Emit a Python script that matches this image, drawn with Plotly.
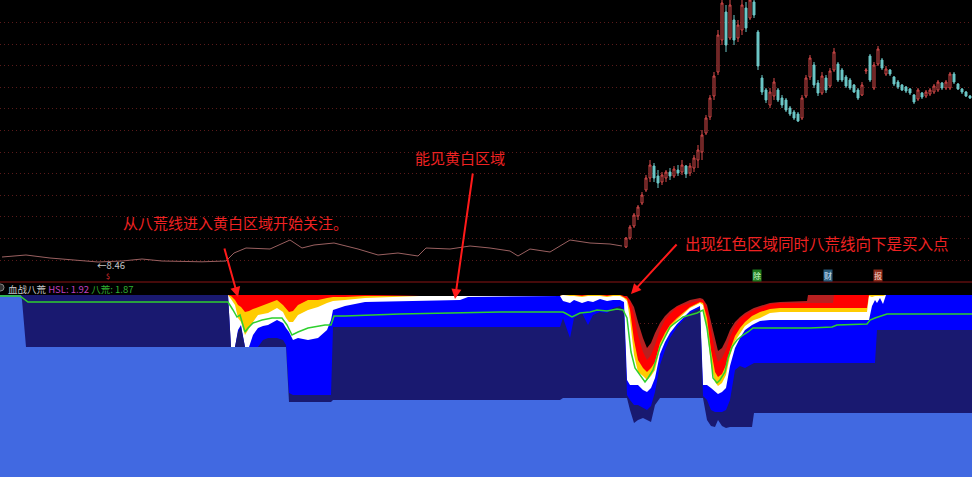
import plotly.graph_objects as go

# ---------------- price panel data ----------------
# flat (early) part of the price series, drawn as a thin line
flat_t = [2, 26, 50, 74, 98, 122, 142, 162, 182, 202, 226, 234, 246, 270, 290, 302, 314,
          334, 358, 378, 398, 418, 426, 450, 470, 490, 510, 518, 530, 550, 570, 590, 610, 622]
flat_p = [8.71, 8.81, 8.66, 8.56, 8.46, 8.51, 8.61, 8.51, 8.48, 8.47, 8.51, 8.91, 9.16, 9.11,
          9.56, 9.16, 9.31, 9.41, 9.11, 8.81, 8.91, 8.76, 9.16, 9.11, 9.26, 9.16, 9.01, 8.76,
          9.11, 8.96, 9.56, 9.41, 9.36, 9.26]

# candles of the rally part
candle_t = list(range(626, 971, 4))
c_open = [9.21, 9.66, 10.26, 10.76, 11.41, 12.06, 12.66, 13.26, 12.76, 12.46,
          12.66, 12.96, 12.76, 13.06, 12.96, 13.26, 12.91, 13.16, 13.56, 13.96,
          14.91, 15.71, 16.76, 17.96, 19.56, 20.96, 19.66, 20.56, 19.66, 20.06,
          21.16, 20.66, 21.46, 19.96, 17.66, 17.06, 16.31, 16.76, 17.06, 16.66,
          16.56, 16.16, 15.96, 15.86, 15.66, 16.76, 17.71, 18.31, 17.41, 16.91,
          17.66, 17.26, 18.06, 18.36, 18.06, 17.71, 17.56, 17.31, 17.06, 16.81,
          18.01, 18.76, 17.16, 18.36, 18.56, 17.86, 18.06, 17.71, 17.46, 17.31,
          17.21, 17.11, 16.81, 16.61, 16.91, 16.76, 16.86, 16.96, 17.06, 17.41,
          17.16, 17.16, 17.86, 17.36, 17.11, 16.96, 16.76]
c_high = [9.71, 10.31, 10.91, 11.31, 11.96, 12.81, 13.56, 13.41, 13.06, 12.96,
          13.06, 13.16, 13.26, 13.31, 13.56, 13.31, 13.41, 13.81, 14.31, 15.06,
          15.81, 16.81, 17.96, 20.06, 21.81, 21.31, 21.56, 20.81, 20.56, 21.71,
          21.46, 21.81, 21.66, 20.06, 17.81, 17.16, 17.16, 17.66, 17.16, 16.81,
          16.66, 16.26, 16.06, 15.96, 16.81, 17.81, 18.81, 18.46, 17.56, 17.96,
          17.81, 18.16, 19.16, 18.46, 18.16, 17.81, 17.66, 17.36, 17.16, 17.46,
          18.16, 18.86, 18.46, 19.26, 18.66, 18.26, 18.11, 17.76, 17.56, 17.36,
          17.26, 17.16, 16.86, 17.16, 16.96, 17.06, 17.16, 17.36, 17.56, 17.46,
          17.56, 17.96, 17.96, 17.41, 17.16, 17.01, 16.81]
c_low = [9.16, 9.56, 10.16, 10.56, 11.31, 11.96, 12.46, 12.46, 12.16, 12.31,
         12.46, 12.56, 12.66, 12.76, 12.81, 12.66, 12.76, 12.96, 13.16, 13.56,
         14.81, 15.56, 16.56, 17.81, 19.31, 18.96, 19.56, 19.31, 19.46, 19.81,
         19.96, 20.56, 20.66, 18.06, 16.81, 16.41, 16.16, 16.56, 16.46, 16.16,
         15.96, 15.76, 15.56, 15.46, 15.56, 16.66, 17.56, 17.16, 16.76, 16.81,
         16.91, 17.16, 17.96, 17.46, 17.46, 17.16, 17.06, 16.91, 16.56, 16.76,
         17.86, 17.46, 17.06, 18.26, 18.06, 17.76, 17.76, 17.26, 17.11, 17.01,
         16.91, 16.81, 16.36, 16.51, 16.61, 16.66, 16.76, 16.86, 16.96, 17.06,
         17.06, 17.06, 17.36, 17.06, 16.86, 16.71, 16.61]
c_close = [9.66, 10.21, 10.81, 11.21, 11.81, 12.66, 13.31, 12.66, 12.41, 12.81,
           12.96, 12.76, 13.11, 12.91, 13.31, 12.86, 13.26, 13.66, 14.06, 14.81,
           15.66, 16.66, 17.76, 19.81, 21.41, 19.31, 21.31, 19.56, 20.31, 21.31,
           20.16, 21.56, 20.81, 18.26, 16.96, 16.56, 16.96, 17.46, 16.56, 16.31,
           16.06, 15.86, 15.66, 15.51, 16.66, 17.66, 18.66, 17.31, 16.91, 17.76,
           17.06, 18.01, 18.96, 17.56, 17.56, 17.26, 17.16, 16.96, 16.66, 17.31,
           18.06, 17.56, 18.31, 19.11, 18.16, 18.11, 17.86, 17.36, 17.21, 17.06,
           17.01, 16.91, 16.46, 17.06, 16.71, 16.96, 17.06, 17.26, 17.46, 17.16,
           17.46, 17.86, 17.46, 17.11, 16.96, 16.76, 16.66]

# ---------------- indicator panel data (upper edge of each band) ----------------
ind_t = [0, 21, 22, 26, 228,
         231, 235, 238, 241, 245, 249, 253, 258, 263, 268,
         277, 283, 286, 289, 293, 298, 308, 318, 327, 331,
         333, 345, 365, 420, 460, 468, 560,
         563, 567, 570, 574, 582, 588, 593, 600, 607, 613,
         620, 624, 627,
         630, 634, 638, 643, 647, 651, 655, 660, 665, 670,
         677, 690, 700,
         703, 707, 711, 715, 718, 722, 726, 730, 735, 740,
         745, 752, 754, 760, 770, 780, 807, 808, 833, 834,
         867, 869, 872, 875, 877, 880, 883, 886, 972]
lvl_dark = [182, 182, 182, 182, 182,
            182, 182, 182, 182, 182, 182, 182, 182, 182, 182,
            182, 182, 182, 182, 182, 182, 182, 182, 182, 182,
            182, 182, 182, 181, 181, 181, 181,
            182, 182, 182, 182, 182, 182, 182, 182, 182, 182,
            182, 181, 181,
            177, 170, 155, 139, 129, 134, 144, 154, 161, 166,
            171, 177, 179,
            178, 172, 155, 137, 126, 129, 137, 147, 155, 160,
            164, 168, 169, 171, 174, 175, 176, 182, 182, 182,
            182, 182, 182, 182, 182, 182, 182, 182, 182]
lvl_red = [182, 182, 182, 182, 182,
           182, 182, 182, 182, 182, 182, 182, 182, 182, 182,
           182, 182, 182, 182, 182, 182, 182, 182, 182, 182,
           182, 182, 182, 181, 181, 181, 181,
           182, 182, 182, 182, 182, 182, 182, 182, 182, 182,
           182, 181, 180,
           176, 162, 142, 125, 117, 122, 132, 147, 157, 163,
           170, 174, 177,
           177, 169, 147, 125, 115, 119, 127, 140, 151, 158,
           162, 166, 167, 169, 173, 174, 174, 174, 174, 182,
           182, 182, 182, 182, 182, 182, 182, 182, 182]
lvl_yellow = [182, 182, 182, 182, 182,
              181, 177, 172, 170, 165, 166, 168, 170, 172, 174,
              177, 172, 168, 165, 166, 172, 177, 177, 179, 180,
              180, 180, 181, 181, 181, 181, 181,
              182, 182, 182, 182, 181, 182, 182, 182, 181, 182,
              182, 180, 178,
              167, 137, 117, 109, 105, 109, 115, 134, 144, 152,
              159, 170, 175,
              174, 159, 127, 105, 100, 103, 112, 127, 141, 149,
              155, 161, 162, 165, 168, 169, 169, 169, 169, 169,
              169, 182, 182, 182, 182, 182, 182, 182, 182]
lvl_white = [182, 182, 182, 182, 182,
             178, 172, 159, 155, 142, 149, 155, 162, 163, 164,
             169, 165, 159, 155, 155, 162, 167, 170, 174, 175,
             176, 177, 179, 181, 181, 181, 181,
             182, 181, 181, 181, 180, 181, 181, 181, 180, 181,
             181, 179, 176,
             157, 122, 105, 101, 97, 101, 107, 129, 140, 148,
             157, 169, 174,
             172, 147, 112, 95, 91, 94, 102, 121, 136, 144,
             151, 156, 157, 159, 164, 165, 165, 165, 165, 165,
             165, 181, 180, 181, 181, 181, 181, 182, 182]
lvl_blue = [182, 182, 182, 182, 182,
            130, 130, 147, 152, 130, 130, 142, 149, 151, 152,
            157, 154, 149, 145, 137, 139, 137, 139, 147, 157,
            167, 171, 175, 176, 177, 180, 181,
            176, 175, 174, 177, 174, 176, 175, 178, 176, 177,
            177, 175, 97,
            92, 92, 92, 87, 85, 89, 99, 123, 135, 144,
            153, 166, 171,
            92, 92, 89, 85, 83, 85, 89, 111, 129, 139,
            147, 152, 153, 156, 157, 157, 157, 157, 157, 157,
            157, 157, 171, 177, 174, 179, 173, 182, 182]
lvl_navy = [182, 182, 182, 182, 182,
            130, 130, 145, 150, 130, 130, 130, 130, 137, 139,
            139, 137, 132, 84, 82, 82, 82, 82, 82, 82,
            150, 150, 150, 150, 150, 150, 150,
            159, 147, 139, 159, 164, 152, 162, 165, 164, 169,
            171, 167, 82,
            77, 72, 72, 69, 67, 71, 85, 112, 127, 139,
            150, 164, 169,
            81, 77, 67, 65, 65, 65, 67, 77, 107, 111,
            109, 113, 114, 114, 114, 114, 114, 114, 114, 114,
            114, 114, 114, 114, 147, 147, 147, 147, 147]
lvl_royal = [182, 182, 177, 130, 130,
             130, 130, 130, 130, 130, 130, 130, 130, 130, 130,
             130, 130, 130, 75, 75, 75, 75, 75, 75, 75,
             77, 77, 77, 77, 77, 77, 77,
             79, 79, 79, 79, 79, 79, 79, 79, 79, 79,
             79, 79, 79,
             67, 54, 57, 59, 57, 55, 72, 79, 79, 79,
             79, 79, 79,
             79, 57, 51, 50, 57, 51, 49, 50, 50, 50,
             50, 50, 64, 64, 64, 64, 64, 64, 64, 64,
             64, 64, 64, 64, 64, 64, 64, 64, 64]

# 八荒 line
bh_t = [0, 20, 28, 228, 233, 237, 240, 245, 248, 253, 262, 272, 282, 287, 292, 298, 308, 315,
        325, 331, 334, 345, 400, 500, 563, 565, 572, 580, 590, 597, 607, 617, 623, 627, 631,
        635, 640, 645, 648, 653, 660, 670, 683, 697, 703, 707, 711, 713, 717, 720, 725, 728,
        732, 737, 743, 748, 753, 770, 810, 832, 837, 867, 870, 875, 880, 887, 972]
bh_v = [181, 181, 175, 175, 167, 160, 162, 145, 149, 154, 157, 159, 159, 152, 142, 145, 149,
        150, 152, 152, 161, 161, 163, 165, 165, 164, 160, 164, 165, 167, 166, 168, 167, 159,
        125, 109, 102, 95, 99, 107, 130, 150, 160, 164, 167, 149, 119, 99, 94, 97, 105, 119,
        130, 137, 142, 145, 149, 149, 149, 150, 152, 153, 157, 159, 161, 163, 163]

band_names = ["dark", "red", "yellow", "white", "blue", "navy", "royal"]
band_values = [lvl_dark, lvl_red, lvl_yellow, lvl_white, lvl_blue, lvl_navy, lvl_royal]
band_colors = ["#b82020", "#ff0000", "#ffcc00", "#ffffff", "#0000ff", "#191970", "#4169e1"]

W, H = 972, 477
fig = go.Figure()

# price panel
fig.add_trace(go.Scatter(x=flat_t, y=flat_p, mode="lines",
                         line=dict(color="#9a6060", width=1), hoverinfo="skip",
                         xaxis="x", yaxis="y"))
fig.add_trace(go.Candlestick(x=candle_t, open=c_open, high=c_high, low=c_low, close=c_close,
                             increasing=dict(line=dict(color="#d84a4a", width=1), fillcolor="#000000"),
                             decreasing=dict(line=dict(color="#6cc8c8", width=1), fillcolor="#6cc8c8"),
                             whiskerwidth=0, xaxis="x", yaxis="y", hoverinfo="skip"))

# indicator panel bands
for name, vals, col in zip(band_names, band_values, band_colors):
    fig.add_trace(go.Scatter(x=ind_t, y=vals, mode="lines", fill="tozeroy",
                             line=dict(width=0, color=col), fillcolor=col, name=name,
                             hoverinfo="skip", xaxis="x2", yaxis="y2"))
fig.add_trace(go.Scatter(x=bh_t, y=bh_v, mode="lines", line=dict(color="#2ed02e", width=1.5),
                         hoverinfo="skip", xaxis="x2", yaxis="y2"))

top_lo = (H - 282) / H
bot_hi = (H - 295) / H

fig.update_layout(
    width=W, height=H, margin=dict(l=0, r=0, t=0, b=0),
    paper_bgcolor="#000000", plot_bgcolor="#000000", showlegend=False,
    font=dict(family="Noto Sans CJK SC, DejaVu Sans", color="#cccccc"),
    xaxis=dict(domain=[0, 1], range=[0, W], visible=False, rangeslider=dict(visible=False),
               anchor="y", fixedrange=True),
    yaxis=dict(domain=[top_lo, 1], range=[7.46, 21.56], showticklabels=False, ticks="",
               showgrid=True, gridcolor="#5a1a1a", griddash="1px,3px", gridwidth=1,
               tick0=8.56, dtick=1.08, zeroline=False, showline=False, anchor="x"),
    xaxis2=dict(domain=[0, 1], range=[0, W], visible=False, anchor="y2"),
    yaxis2=dict(domain=[0, bot_hi], range=[0, 182], showticklabels=False, ticks="",
                showgrid=True, gridcolor="#5a1a1a", griddash="1px,3px", tickvals=[154],
                zeroline=False, showline=False, anchor="x2"),
)

shapes = [
    dict(type="line", xref="paper", yref="paper", x0=0, x1=1, y0=top_lo, y1=top_lo,
         line=dict(color="#8b1414", width=1)),
    dict(type="circle", xref="paper", yref="paper", x0=-3 / W, x1=4 / W,
         y0=1 - 291 / H, y1=1 - 284 / H, line=dict(color="#888888", width=1), fillcolor="#333333"),
]
fig.update_layout(shapes=shapes)

red = "#ee2222"
ann = [
    dict(text="从八荒线进入黄白区域开始关注。", x=235 / W, y=1 - 222 / H, font=dict(size=15, color=red)),
    dict(text="能见黄白区域", x=460 / W, y=1 - 157 / H, font=dict(size=15, color=red)),
    dict(text="出现红色区域同时八荒线向下是买入点", x=817 / W, y=1 - 243 / H, font=dict(size=15.5, color=red)),
    dict(text="←8.46", x=111 / W, y=1 - 264.5 / H, font=dict(size=9.5, color="#c8c8c8"), borderpad=0),
    dict(text="$", x=108 / W, y=1 - 276 / H, font=dict(size=7, color="#e03030"), borderpad=0),
    dict(text="除", x=757 / W, y=1 - 275 / H, font=dict(size=8, color="#d0ffd0"), bgcolor="#1f7a1f", borderpad=0),
    dict(text="财", x=828 / W, y=1 - 275 / H, font=dict(size=8, color="#d0e8ff"), bgcolor="#2a5a7a", borderpad=0),
    dict(text="报", x=878 / W, y=1 - 275 / H, font=dict(size=8, color="#ffd8c8"), bgcolor="#8a2a1a", borderpad=0),
    dict(text='<span style="color:#c8c8c8">血战八荒</span> <span style="color:#c040c0">HSL: 1.92</span> '
              '<span style="color:#30b030">八荒: 1.87</span>',
         x=7 / W, y=1 - 289 / H, xanchor="left", font=dict(size=9.5), borderpad=0),
]
for a in ann:
    a.setdefault("xanchor", "center")
    a.update(xref="paper", yref="paper", yanchor="middle", showarrow=False)

arrows = [((224, 247), (238, 297)), ((473, 172), (455, 299)), ((678, 243), (631, 294))]
for (tx, ty), (hx, hy) in arrows:
    ann.append(dict(x=hx / W, y=1 - hy / H, xref="paper", yref="paper", text="",
                    showarrow=True, ax=tx - hx, ay=ty - hy, arrowcolor="#ff1a1a",
                    arrowwidth=2, arrowhead=2, arrowsize=1))
fig.update_layout(annotations=ann)

fig.write_html("out.html", config={"displayModeBar": False, "staticPlot": True},
               post_script="document.body.style.margin='0';document.body.style.overflow='hidden';"
                           "document.body.style.background='#000';")
